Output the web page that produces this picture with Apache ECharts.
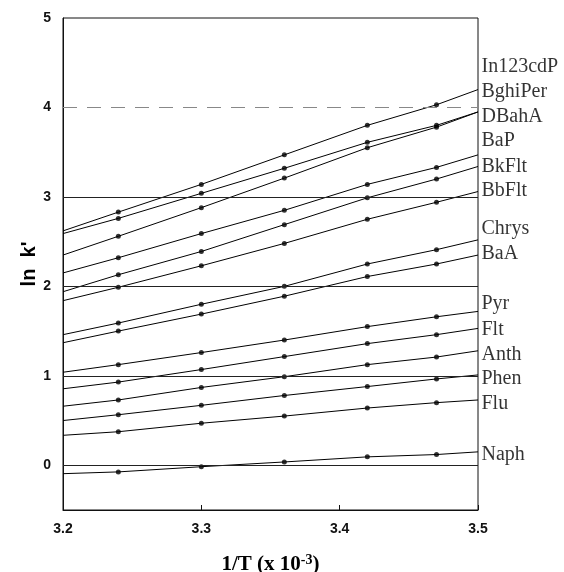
<!DOCTYPE html>
<html><head><meta charset="utf-8">
<script src="https://cdn.jsdelivr.net/npm/echarts/dist/echarts.min.js"></script>
<style>html,body{margin:0;padding:0;background:#fff}#c{width:564px;height:572px}</style>
</head><body><div id="c"></div>
<script>
// x positions (1/T x 10^-3) of measured points
const xPoints = [3.24, 3.30, 3.36, 3.42, 3.47];
const names = ['In123cdP','BghiPer','DBahA','BaP','BkFlt','BbFlt','Chrys','BaA','Pyr','Flt','Anth','Phen','Flu','Naph'];
// measured ln k' values per compound
const In123cdP = [2.83, 3.14, 3.47, 3.80, 4.03];
const BghiPer  = [2.76, 3.04, 3.32, 3.61, 3.80];
const DBahA    = [2.56, 2.88, 3.21, 3.55, 3.78];
const BaP      = [2.32, 2.59, 2.85, 3.14, 3.33];
const BkFlt    = [2.13, 2.39, 2.69, 2.99, 3.20];
const BbFlt    = [1.99, 2.23, 2.48, 2.75, 2.94];
const Chrys    = [1.59, 1.80, 2.00, 2.25, 2.41];
const BaA      = [1.50, 1.69, 1.89, 2.11, 2.25];
const Pyr      = [1.125, 1.26, 1.40, 1.55, 1.66];
const Flt      = [0.93, 1.07, 1.215, 1.36, 1.46];
const Anth     = [0.73, 0.87, 0.99, 1.125, 1.21];
const Phen     = [0.565, 0.67, 0.78, 0.88, 0.965];
const Flu      = [0.375, 0.47, 0.55, 0.64, 0.70];
const Naph     = [-0.074, -0.016, 0.037, 0.094, 0.12];
// fitted line values at the axis ends (x = 3.2 and x = 3.5)
const xStart = 3.2, xEnd = 3.5;
const lineAtStart = [2.62, 2.59, 2.35, 2.15, 1.94, 1.84, 1.46, 1.37, 1.04, 0.855, 0.66, 0.50, 0.335, -0.094];
const lineAtEnd   = [4.20, 3.95, 3.95, 3.47, 3.34, 3.06, 2.52, 2.35, 1.72, 1.53, 1.28, 1.01, 0.73, 0.15];
// y (data units) where each compound name is written at the right edge
const labelY = [4.46, 4.18, 3.90, 3.63, 3.34, 3.07, 2.64, 2.36, 1.81, 1.52, 1.24, 0.97, 0.69, 0.12];
// horizontal reference lines
const refLines = [0, 1, 2, 3, 4];
const xTicks = [3.2, 3.3, 3.4, 3.5];
const yTicks = [0, 1, 2, 3, 4, 5];

const values = [In123cdP, BghiPer, DBahA, BaP, BkFlt, BbFlt, Chrys, BaA, Pyr, Flt, Anth, Phen, Flu, Naph];

const series = [];
names.forEach((n, i) => {
  const pts = xPoints.map((x, j) => [x, values[i][j]]);
  series.push({
    type: 'line', name: n + ' fit', silent: true, showSymbol: false, symbol: 'none',
    lineStyle: { color: '#000', width: 1 },
    data: [[xStart, lineAtStart[i]]].concat(pts).concat([[xEnd, lineAtEnd[i]]]),
    markLine: i === 0 ? {
      silent: true, symbol: 'none', label: { show: false },
      data: refLines.map(v => ({ yAxis: v, lineStyle: v === 4 ? { color: '#888', width: 1, type: [14, 10] } : { color: '#222', width: 1, type: 'solid' } }))
    } : undefined
  });
  series.push({
    type: 'scatter', name: n, silent: true, symbol: 'circle', symbolSize: 5,
    itemStyle: { color: '#000' }, data: pts
  });
});
series.push({
  type: 'scatter', name: 'labels', silent: true, symbolSize: 1,
  itemStyle: { color: 'rgba(0,0,0,0)' },
  label: { show: true, position: 'right', distance: 3, formatter: '{b}', color: '#000',
           fontFamily: 'Liberation Serif', fontSize: 20 },
  data: names.map((n, i) => ({ name: n, value: [xEnd, labelY[i]] }))
});

const chart = echarts.init(document.getElementById('c'), null, { renderer: 'canvas' });
chart.setOption({
  animation: false,
  backgroundColor: '#fff',
  grid: { left: 63, right: 86, top: 18, bottom: 62, show: true, borderColor: '#111', borderWidth: 1,
          containLabel: false, outerBoundsMode: 'none' },
  xAxis: {
    type: 'value', min: xTicks[0], max: xTicks[xTicks.length - 1], interval: 0.1,
    name: '{a|1/T (x 10}{s|-3}{a|)}', nameLocation: 'middle', nameGap: 43, nameMoveOverlap: false,
    nameTextStyle: { rich: {
      a: { fontFamily: 'Liberation Serif', fontWeight: 'bold', fontSize: 21, color: '#000' },
      s: { fontFamily: 'Liberation Serif', fontWeight: 'bold', fontSize: 14, color: '#000', verticalAlign: 'top', padding: [0, 0, 9, 0] }
    } },
    axisLine: { show: true, onZero: false, lineStyle: { color: '#111', width: 1 } },
    axisTick: { show: true, inside: true, length: 5, lineStyle: { color: '#111' } },
    axisLabel: { formatter: v => v.toFixed(1), margin: 12, fontFamily: 'Liberation Sans', fontWeight: 'bold', fontSize: 14, color: '#111' },
    splitLine: { show: false }
  },
  yAxis: {
    type: 'value', min: -0.5, max: yTicks[yTicks.length - 1], interval: 0.5,
    name: "ln  k'", nameLocation: 'middle', nameGap: 24, nameRotate: 90, nameMoveOverlap: false,
    nameTextStyle: { fontFamily: 'Liberation Sans', fontWeight: 'bold', fontSize: 20, color: '#000' },
    axisLine: { show: true, onZero: false, lineStyle: { color: '#111', width: 1 } },
    axisTick: { show: false },
    axisLabel: { formatter: v => (yTicks.indexOf(Math.round(v * 100) / 100) >= 0 ? String(Math.round(v)) : ''),
                 margin: 12, fontFamily: 'Liberation Sans', fontWeight: 'bold', fontSize: 14, color: '#111' },
    splitLine: { show: false }
  },
  series: series
});
</script></body></html>
